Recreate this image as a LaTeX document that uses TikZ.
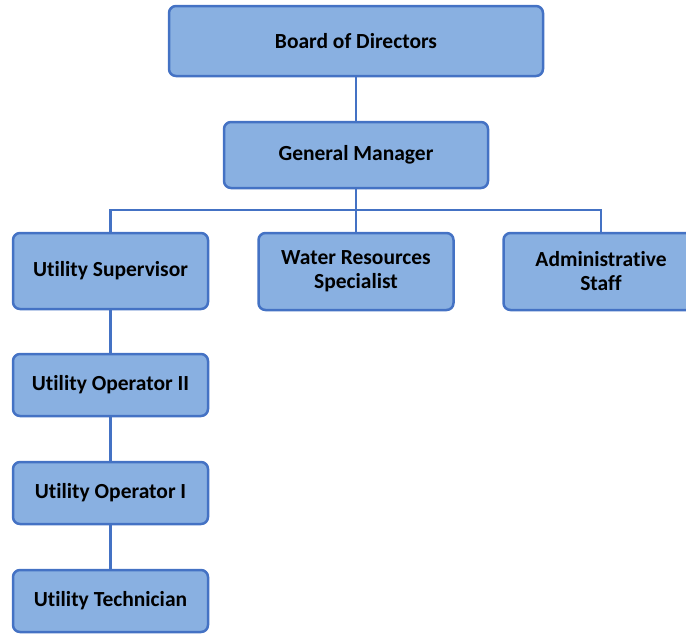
\documentclass[tikz,border=0pt]{standalone}
\usepackage{fontspec}
\setmainfont{Carlito}[Ligatures={NoCommon,NoRare}]
\definecolor{boxfill}{RGB}{137,176,225}
\definecolor{boxline}{RGB}{68,114,196}
\begin{document}
\begin{tikzpicture}[x=1pt,y=-1pt,
  box/.style={draw=boxline,fill=boxfill,line width=2.5pt,rounded corners=7pt,
    minimum width=195pt,align=center,inner sep=0pt,
    font=\fontsize{21.5}{24}\selectfont\bfseries},
  conn/.style={draw=boxline,line width=2.5pt}]
\useasboundingbox (0,0) rectangle (686,633);
\node[box,minimum width=374pt,minimum height=70pt] (bod) at (356,41) {Board of Directors};
\node[box,minimum width=264pt,minimum height=66pt] (gm) at (356,155) {General Manager};
\node[box,minimum height=76pt] (us) at (110.5,271) {Utility Supervisor};
\node[box,minimum height=77pt] (wr) at (356,271.5) {Water Resources\\Specialist};
\node[box,minimum height=77pt] (as) at (601,271.5) {Administrative\\Staff};
\node[box,minimum height=62pt] (op2) at (110.5,385) {Utility Operator II};
\node[box,minimum height=62pt] (op1) at (110.5,493) {Utility Operator I};
\node[box,minimum height=62pt] (tech) at (110.5,601) {Utility Technician};
\coordinate (bus) at (356,210);
\draw[conn] (bod) -- (gm);
\draw[conn] (gm) -- (wr);
\draw[conn] (us.north) |- (bus) -| (as.north);
\draw[conn] (us) -- (op2);
\draw[conn] (op2) -- (op1);
\draw[conn] (op1) -- (tech);
\end{tikzpicture}
\end{document}
